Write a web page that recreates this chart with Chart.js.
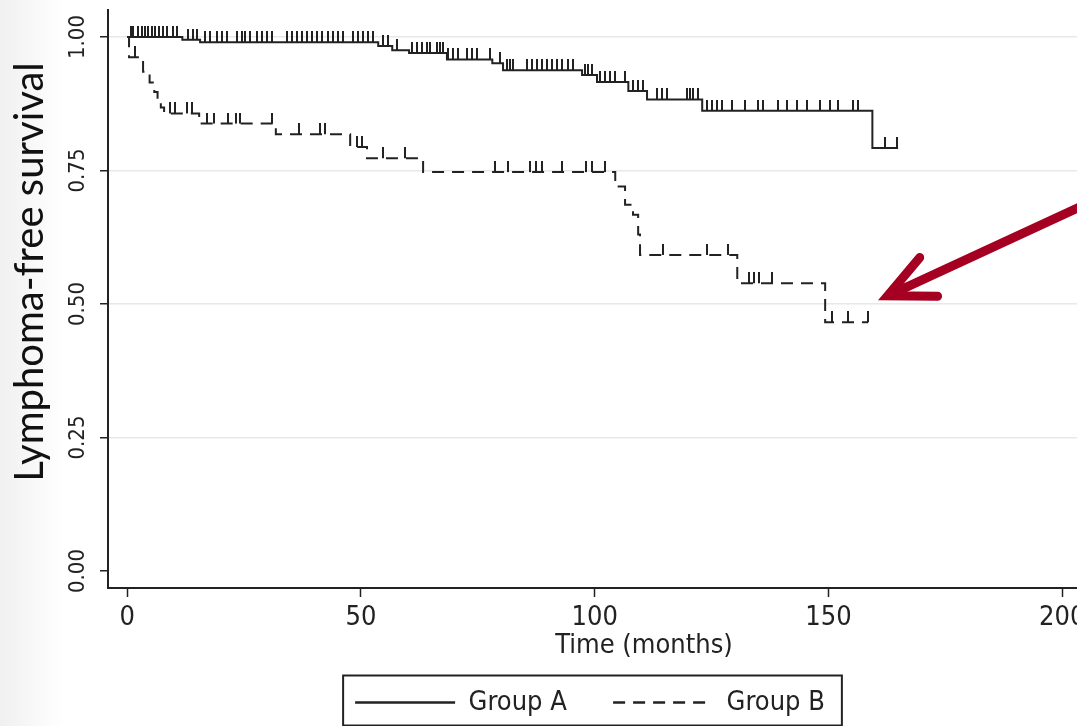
<!DOCTYPE html>
<html lang="en">
<head>
<meta charset="utf-8" />
<title>Lymphoma-free survival</title>
<script src="https://cdn.jsdelivr.net/npm/chart.js"></script>
<style>
  * { box-sizing: border-box; margin: 0; padding: 0; }
  html, body { width: 1077px; height: 726px; overflow: hidden; background: #fff; }
  canvas { display: block; }
</style>
</head>
<body>
  <canvas id="km" width="1190" height="726"></canvas>
<script>
  // axis ticks
  const xTicks = [0, 50, 100, 150, 200];
  const yTicks = [0, 0.25, 0.5, 0.75, 1];
  const yTickLabels = ['0.00', '0.25', '0.50', '0.75', '1.00'];

  const seriesNames = ['Group A', 'Group B'];

  // Group A: time of each step (months) and survival after it
  const aTime = [0, 11.8, 15.6, 53.7, 56.7, 60.3, 68.4, 78.1, 80.4, 97.3, 100.5, 107.2, 111.2, 123.0, 159.4, 164.9];
  const aSurv = [1.0, 0.995, 0.990, 0.983, 0.975, 0.970, 0.958, 0.951, 0.938, 0.929, 0.916, 0.899, 0.883, 0.862, 0.792, 0.792];
  // Group A censored times
  const aCensor = [
    0.9, 1.3, 2.4, 3.2, 3.9, 4.5, 5.3, 6.0, 6.9, 7.7, 8.6, 9.8, 10.7,
    13.0, 14.1, 15.0,
    16.7, 17.8, 19.3, 20.3, 21.4, 23.5, 24.6, 25.2, 26.3, 27.8, 28.9, 29.9, 31.0, 34.2, 35.3, 36.4, 37.4,
    38.5, 39.6, 40.6, 41.7, 43.0, 44.0, 45.1, 46.2, 48.3, 49.4, 50.5, 51.5, 52.6,
    54.8, 55.8, 57.8,
    61.0, 62.0, 63.1, 64.2, 64.8, 66.3, 66.9, 67.6,
    68.7, 69.7, 70.8, 72.7, 73.8, 74.9, 77.6, 79.8,
    81.3, 81.9, 82.6, 85.6, 86.6, 87.7, 88.8, 89.8, 90.9, 92.0, 93.0, 94.3, 95.4,
    98.0, 98.6, 99.5, 101.2, 102.2, 103.3, 104.4, 106.5, 108.2, 109.3, 110.4,
    113.4, 114.4, 115.5, 119.8, 120.4, 121.1, 122.1,
    124.0, 125.1, 126.2, 127.3, 129.4, 132.2, 135.0, 136.0, 139.3, 141.2, 143.3, 145.5, 148.2, 150.4,
    152.1, 155.3, 156.4,
    162.1, 164.7
  ];

  // Group B
  const bTime = [0, 0.4, 3.4, 4.8, 5.8, 6.5, 7.2, 7.9, 15.4, 31.8, 47.7, 51.3, 63.3, 104.4, 106.5, 108.2, 109.3, 109.7, 130.5, 149.3, 158.5];
  const bSurv = [1.0, 0.962, 0.935, 0.915, 0.897, 0.880, 0.868, 0.857, 0.838, 0.818, 0.794, 0.773, 0.747, 0.720, 0.686, 0.667, 0.630, 0.592, 0.539, 0.466, 0.466];
  const bCensor = [
    1.6, 9.2, 10.3, 12.8, 13.9,
    17.1, 18.6, 21.6, 23.3, 24.2, 31.0,
    36.8, 41.3, 42.4, 49.2, 50.3, 54.8, 59.5,
    78.7, 81.5, 86.2, 87.5, 88.8, 93.0, 98.2, 99.5, 102.2,
    114.7, 124.0, 128.6,
    133.0, 134.1, 135.2, 138.0,
    150.8, 154.2, 158.5
  ];

  // annotation arrow (data units): tail off to the right, tip at end of group B
  const arrowTail = [229.5, 0.786];
  const arrowTip = [160.6, 0.507];

  const ink = '#222';
  const narrow = '"DejaVu Sans Condensed", "Liberation Sans Narrow", sans-serif';

  function steps(t, s) { return t.map((x, i) => ({ x, y: s[i] })); }
  function levelAt(t, s, x) {
    let v = s[0];
    for (let i = 0; i < t.length; i++) if (t[i] <= x) v = s[i];
    return v;
  }
  function censorPoints(times, t, s) { return times.map(x => ({ x, y: levelAt(t, s, x) })); }

  // short upward tick used as the censoring mark (image is centred on the point)
  const tickMark = document.createElement('canvas');
  tickMark.width = 2; tickMark.height = 22;
  const tctx = tickMark.getContext('2d');
  tctx.fillStyle = ink;
  tctx.fillRect(0, 0, 2, 11);

  const decor = {
    id: 'decor',
    beforeDraw(chart) {
      const { ctx, width, height } = chart;
      ctx.save();
      ctx.fillStyle = '#fff';
      ctx.fillRect(0, 0, width, height);
      const g = ctx.createLinearGradient(0, 0, 64, 0);
      g.addColorStop(0, '#f0f0f0');
      g.addColorStop(1, '#ffffff');
      ctx.fillStyle = g;
      ctx.fillRect(0, 0, 64, height);
      ctx.restore();
    },
    afterDraw(chart) {
      const { ctx, chartArea } = chart;
      const { x, y } = chart.scales;

      // y axis title
      ctx.save();
      ctx.translate(43, chartArea.top + 262);
      ctx.rotate(-Math.PI / 2);
      ctx.font = '40px Lato, "Open Sans", sans-serif';
      ctx.fillStyle = '#111';
      ctx.textAlign = 'center';
      ctx.textBaseline = 'alphabetic';
      ctx.fillText('Lymphoma-free survival', 0, 0);
      ctx.restore();

      // legend frame
      const hb = chart.legend.legendHitBoxes;
      if (hb && hb.length) {
        const last = hb[hb.length - 1];
        const cy = hb[0].top + hb[0].height / 2;
        ctx.save();
        ctx.strokeStyle = ink;
        ctx.lineWidth = 2;
        ctx.strokeRect(hb[0].left - 12, cy - 27, last.left + last.width + 29 - hb[0].left, 50);
        ctx.restore();
      }

      // red arrow
      const tx = x.getPixelForValue(arrowTip[0]), ty = y.getPixelForValue(arrowTip[1]);
      const sx = x.getPixelForValue(arrowTail[0]), sy = y.getPixelForValue(arrowTail[1]);
      const ang = Math.atan2(sy - ty, sx - tx);
      const half = 0.44, lw = 9;
      const back = (lw / 2) / Math.sin(half);
      const vx = tx + back * Math.cos(ang), vy = ty + back * Math.sin(ang);
      ctx.save();
      ctx.strokeStyle = '#a50021';
      ctx.lineWidth = lw;
      ctx.lineCap = 'round';
      ctx.lineJoin = 'miter';
      ctx.miterLimit = 10;
      ctx.beginPath();
      ctx.moveTo(sx, sy);
      ctx.lineTo(vx + 6 * Math.cos(ang), vy + 6 * Math.sin(ang));
      ctx.stroke();
      ctx.beginPath();
      ctx.moveTo(vx + 50 * Math.cos(ang - half), vy + 50 * Math.sin(ang - half));
      ctx.lineTo(vx, vy);
      ctx.lineTo(vx + 50 * Math.cos(ang + half), vy + 50 * Math.sin(ang + half));
      ctx.stroke();
      ctx.restore();
    }
  };

  new Chart(document.getElementById('km'), {
    type: 'line',
    data: {
      datasets: [
        {
          label: seriesNames[0],
          data: steps(aTime, aSurv),
          borderColor: ink, backgroundColor: ink, borderWidth: 2,
          stepped: true, pointRadius: 0, pointStyle: 'line', fill: false
        },
        {
          label: seriesNames[1],
          data: steps(bTime, bSurv),
          borderColor: ink, backgroundColor: ink, borderWidth: 2, borderDash: [12, 8],
          stepped: true, pointRadius: 0, pointStyle: 'line', fill: false
        },
        {
          label: 'A censored',
          data: censorPoints(aCensor, aTime, aSurv),
          showLine: false, pointStyle: tickMark, pointRadius: 1
        },
        {
          label: 'B censored',
          data: censorPoints(bCensor, bTime, bSurv),
          showLine: false, pointStyle: tickMark, pointRadius: 1
        }
      ]
    },
    options: {
      responsive: false,
      animation: false,
      events: [],
      layout: { padding: { top: 10, right: 10, bottom: 0, left: 0 } },
      scales: {
        x: {
          type: 'linear',
          min: -4.1, max: 225.2,
          afterBuildTicks: s => { s.ticks = xTicks.map(v => ({ value: v })); },
          afterFit: s => { s.height = 101; s.paddingLeft = 0; s.paddingRight = 0; },
          border: { color: ink, width: 2 },
          grid: { drawOnChartArea: false, tickLength: 9, tickColor: ink, tickWidth: 1.5 },
          ticks: { autoSkip: false, maxRotation: 0, padding: 5, color: ink, font: { family: narrow, size: 27 } },
          title: { display: true, text: 'Time (months)', color: ink, font: { family: narrow, size: 27 }, padding: { top: 0, bottom: 27 } }
        },
        y: {
          min: -0.0318, max: 1.0506,
          afterBuildTicks: s => { s.ticks = yTicks.map(v => ({ value: v })); },
          afterFit: s => { s.width = 108; s.paddingTop = 0; s.paddingBottom = 0; },
          border: { color: ink, width: 2 },
          grid: {
            color: c => (c.tick && c.tick.value === 0) ? 'rgba(0,0,0,0)' : '#e8e8e8',
            lineWidth: 1.5, tickLength: 8, tickColor: ink, tickWidth: 1.5
          },
          ticks: {
            autoSkip: false, minRotation: 90, maxRotation: 90, crossAlign: 'center', padding: 0,
            color: ink, font: { family: narrow, size: 22 },
            callback: (v, i) => yTickLabels[i]
          }
        }
      },
      plugins: {
        tooltip: { enabled: false },
        legend: {
          position: 'bottom',
          labels: {
            usePointStyle: true, pointStyleWidth: 100, padding: 0,
            color: ink, font: { family: narrow, size: 27 },
            generateLabels: chart => chart.data.datasets.slice(0, 2).map((d, i) => ({
              text: i === 0 ? d.label + '\u00a0'.repeat(6) : d.label,
              fillStyle: d.borderColor, strokeStyle: d.borderColor,
              lineWidth: 2.5, lineDash: d.borderDash || [],
              pointStyle: 'line', datasetIndex: i, hidden: false, fontColor: ink
            }))
          }
        }
      }
    },
    plugins: [decor]
  });
</script>
</body>
</html>
